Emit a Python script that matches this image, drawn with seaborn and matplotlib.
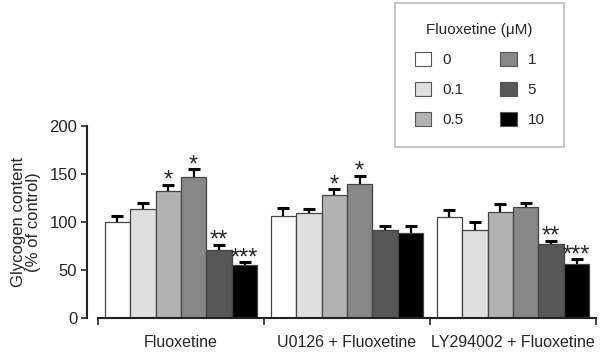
import pandas as pd
import seaborn as sns
import matplotlib.pyplot as plt
from matplotlib.patches import Patch

# datos
grupos = ['Fluoxetine', 'U0126 + Fluoxetine', 'LY294002 + Fluoxetine']
dosis = ['0', '0.1', '0.5', '1', '5', '10']
glucogeno = {
    'Fluoxetine': [100, 114, 132, 147, 71, 55],
    'U0126 + Fluoxetine': [106, 109, 128, 140, 92, 89],
    'LY294002 + Fluoxetine': [105, 92, 110, 116, 77, 56],
}
error = {
    'Fluoxetine': [6.5, 6, 6.5, 8, 5, 3],
    'U0126 + Fluoxetine': [9, 5, 6, 8, 3.5, 7],
    'LY294002 + Fluoxetine': [7, 8, 8.5, 4, 3.5, 5],
}
estrellas = {
    'Fluoxetine': ['', '', '*', '*', '**', '***'],
    'U0126 + Fluoxetine': ['', '', '*', '*', '', ''],
    'LY294002 + Fluoxetine': ['', '', '', '', '**', '***'],
}
colores = ['#ffffff', '#dfdfdf', '#b2b2b2', '#878787', '#575757', '#000000']

filas = []
for g in grupos:
    for i, d in enumerate(dosis):
        filas.append({'grupo': g, 'dosis': d, 'valor': glucogeno[g][i],
                      'err': error[g][i], 'sig': estrellas[g][i]})
df = pd.DataFrame(filas)

sns.set_style('white')
plt.rcParams['font.family'] = ['Liberation Sans', 'DejaVu Sans']

fig = plt.figure(figsize=(6, 3.52), dpi=100)
ax = fig.add_axes([0.1633, 0.0966, 0.83, 0.5454])

sns.barplot(data=df, x='grupo', y='valor', hue='dosis', order=grupos,
            hue_order=dosis, palette=colores, width=0.92, errorbar=None,
            edgecolor='#444444', linewidth=0.9, saturation=1, legend=False, ax=ax)

# barras de error (solo hacia arriba) y asteriscos
contenedores = list(ax.containers)
for j, cont in enumerate(contenedores):
    d = dosis[j]
    for k, barra in enumerate(cont):
        g = grupos[k]
        fila = df[(df.grupo == g) & (df.dosis == d)].iloc[0]
        xc = barra.get_x() + barra.get_width() / 2
        tope = fila.valor + fila.err
        ax.errorbar(xc, fila.valor, yerr=[[0], [fila.err]], fmt='none',
                    ecolor='black', elinewidth=1.6, capsize=0, zorder=0.5)
        ax.plot([xc], [tope], marker='_', markersize=8, mew=2.2, color='black')
        if fila.sig:
            ax.annotate(fila.sig, (xc, tope), xytext=(0, -5),
                        textcoords='offset points', ha='center', va='bottom',
                        fontsize=17)

ax.set_xlim(-0.5, 2.5)
ax.set_ylim(0, 200)
ax.set_yticks([0, 50, 100, 150, 200])
ax.set_xlabel('')
ax.set_ylabel('Glycogen content\n(% of control)', fontsize=12, labelpad=6,
              linespacing=1.0)
ax.tick_params(axis='y', labelsize=12, length=4, width=1.2, direction='out',
               left=True, pad=3)
ax.tick_params(axis='x', which='major', length=0, labelsize=11.5, pad=12)
ax.set_xticks([-0.5, 0.5, 1.5, 2.5], minor=True)
ax.tick_params(axis='x', which='minor', length=5, width=1.2, direction='out',
               bottom=True)

sns.despine(ax=ax)
ax.spines['left'].set_position(('outward', 8))
for s in ['left', 'bottom']:
    ax.spines[s].set_linewidth(1.5)
    ax.spines[s].set_color('#222222')

# leyenda
manijas = [Patch(facecolor=c, edgecolor='#555555', linewidth=0.8) for c in colores]
leg = fig.legend(manijas, dosis, ncol=2, title='Fluoxetine (\u03bcM)',
                 loc='upper left', bbox_to_anchor=(0.658, 0.991),
                 borderaxespad=0,
                 fontsize=11, title_fontsize=11, frameon=True, fancybox=False,
                 edgecolor='#aaaaaa', handlelength=1.1, handleheight=1.1,
                 labelspacing=0.95, columnspacing=2.4, handletextpad=0.7,
                 borderpad=1.3)
leg.get_frame().set_linewidth(1.2)

plt.savefig('out.png', dpi=100)
